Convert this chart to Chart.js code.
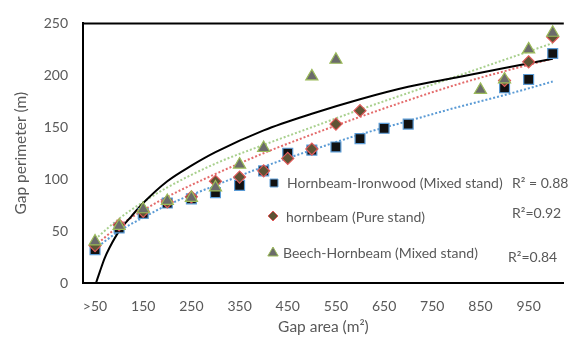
<!DOCTYPE html>
<html>
<head>
<meta charset="utf-8">
<script src="https://cdn.jsdelivr.net/npm/chart.js@4/dist/chart.umd.min.js"></script>
<style>
  body { margin: 0; background: #fff; }
</style>
</head>
<body>
<canvas id="gap_chart" width="572" height="338"></canvas>
<script>
// tick labels on the gap area axis
const xTicks = [50, 150, 250, 350, 450, 550, 650, 750, 850, 950];

// Hornbeam-Ironwood (Mixed stand)
const hiArea  = [50, 100, 150, 200, 250, 300, 350, 400, 450, 500, 550, 600, 650, 700, 900, 950, 1000];
const hiPerim = [32, 53, 67, 77, 81, 87, 94, 108, 125, 128, 131, 139, 149, 153, 188, 196, 221];

// hornbeam (Pure stand)
const hpArea  = [50, 100, 150, 200, 250, 300, 350, 400, 450, 500, 550, 600, 900, 950, 1000];
const hpPerim = [36, 56, 69, 78, 83, 98, 102, 108, 120, 129, 153, 166, 195, 213, 237];

// Beech-Hornbeam (Mixed stand)
const bhArea  = [50, 100, 150, 200, 250, 300, 350, 400, 500, 550, 850, 900, 950, 1000];
const bhPerim = [40, 55, 71, 79, 82, 92, 114, 130, 199, 215, 186, 196, 225, 241];

// dotted trend lines
const trendArea  = [50, 100, 150, 200, 300, 400, 500, 600, 700, 800, 900, 1000];
const hiTrend    = [33, 50, 63, 75, 94, 112, 128, 143, 156, 169, 181, 194];
const hpTrend    = [36, 55, 70, 83, 105, 125, 143, 160, 176, 191, 204, 216];
const bhTrend    = [42, 62, 78, 92, 115, 133, 150, 167, 183, 199, 215, 231];

// solid black curve
const curveArea  = [52, 60, 70, 80, 100, 125, 150, 200, 250, 300, 400, 500, 600, 700, 800, 900, 1000];
const curvePerim = [0, 11, 24, 34, 50, 64, 77, 98, 113, 126, 147, 163, 177, 189, 198, 207, 216];

const legendItems = [
  { label: "Hornbeam-Ironwood (Mixed stand)", r2: "R\u00b2 = 0.88", style: "rect", radius: 5.6, fill: "#111111", stroke: "#5b9bd5",
    mx: 274, my: 183, tx: 287, ty: 183, rx: 512, ry: 183 },
  { label: "hornbeam (Pure stand)", r2: "R\u00b2=0.92", style: "rectRot", radius: 5, fill: "#5e5335", stroke: "#e05a5a",
    mx: 273, my: 216, tx: 286, ty: 217, rx: 512, ry: 213 },
  { label: "Beech-Hornbeam (Mixed stand)", r2: "R\u00b2=0.84", style: "triangle", radius: 6, fill: "#6b6b6b", stroke: "#9bbb59",
    mx: 273, my: 253, tx: 283, ty: 253, rx: 508, ry: 257 }
];

const pts = (xs, ys) => xs.map((x, i) => ({ x: x, y: ys[i] }));
const FONT = "Lato";
const GREY = "#595959";

const frameAndLegend = {
  id: "frameAndLegend",
  afterDraw(chart) {
    const ctx = chart.ctx;
    const a = chart.chartArea;
    ctx.save();
    ctx.strokeStyle = "#000";
    ctx.lineWidth = 2;
    ctx.beginPath();
    ctx.moveTo(a.left - 1, a.top);
    ctx.lineTo(a.right, a.top);
    ctx.stroke();

    ctx.font = "14px " + FONT;
    ctx.textBaseline = "middle";
    ctx.textAlign = "left";
    legendItems.forEach(it => {
      ctx.fillStyle = it.fill;
      ctx.strokeStyle = it.stroke;
      ctx.lineWidth = 1;
      Chart.helpers.drawPoint(ctx, { pointStyle: it.style, radius: it.radius, rotation: 0, borderWidth: 1 }, it.mx, it.my);
      ctx.fillStyle = GREY;
      ctx.fillText(it.label, it.tx, it.ty);
      ctx.fillText(it.r2, it.rx, it.ry);
    });
    ctx.restore();
  }
};

const ctx = document.getElementById("gap_chart").getContext("2d");
new Chart(ctx, {
  type: "scatter",
  data: {
    datasets: [
      { data: pts(bhArea, bhPerim), pointStyle: "triangle", pointRadius: 7, backgroundColor: "#6b6b6b",
        borderColor: "#9bbb59", borderWidth: 1.2, showLine: false, order: 1 },
      { data: pts(hpArea, hpPerim), pointStyle: "rectRot", pointRadius: 6, backgroundColor: "#5e5335",
        borderColor: "#e05a5a", borderWidth: 1.2, showLine: false, order: 2 },
      { data: pts(hiArea, hiPerim), pointStyle: "rect", pointRadius: 7, backgroundColor: "#111111",
        borderColor: "#5b9bd5", borderWidth: 1.2, showLine: false, order: 3 },
      { data: pts(curveArea, curvePerim), showLine: true, pointRadius: 0, borderColor: "#000",
        borderWidth: 2, cubicInterpolationMode: "monotone", order: 4 },
      { data: pts(trendArea, hiTrend), showLine: true, pointRadius: 0, borderColor: "#5b9bd5",
        borderWidth: 2, borderDash: [2, 2], cubicInterpolationMode: "monotone", order: 5 },
      { data: pts(trendArea, hpTrend), showLine: true, pointRadius: 0, borderColor: "#e46c6c",
        borderWidth: 2, borderDash: [2, 2], cubicInterpolationMode: "monotone", order: 5 },
      { data: pts(trendArea, bhTrend), showLine: true, pointRadius: 0, borderColor: "#a9d08e",
        borderWidth: 2, borderDash: [2, 2], cubicInterpolationMode: "monotone", order: 5 }
    ]
  },
  options: {
    responsive: false,
    animation: false,
    layout: { padding: { top: 13, right: 0, left: 0, bottom: 0 } },
    plugins: { legend: { display: false }, tooltip: { enabled: false } },
    scales: {
      x: {
        type: "linear", min: 25, max: 1023,
        afterBuildTicks: s => { s.ticks = xTicks.map(v => ({ value: v })); },
        afterFit: s => { s.height = 55; },
        ticks: { callback: v => (v === 50 ? ">50" : v), color: GREY, font: { family: FONT, size: 14 },
                 padding: 15, maxRotation: 0, autoSkip: false },
        grid: { display: false, drawTicks: false },
        border: { display: true, color: "#000", width: 2 },
        title: { display: true, text: "Gap area (m\u00b2)", color: GREY, font: { family: FONT, size: 15.5 },
                 padding: { top: 0, bottom: 2 } }
      },
      y: {
        min: 0, max: 250,
        afterFit: s => { s.width = 83; },
        ticks: { stepSize: 50, color: GREY, font: { family: FONT, size: 14 }, padding: 15 },
        grid: { display: false, drawTicks: false },
        border: { display: true, color: "#000", width: 2 },
        title: { display: true, text: "Gap perimeter (m)", color: GREY, font: { family: FONT, size: 15.5 },
                 padding: { top: 12, bottom: 0 } }
      }
    }
  },
  plugins: [frameAndLegend]
});
</script>
</body>
</html>
